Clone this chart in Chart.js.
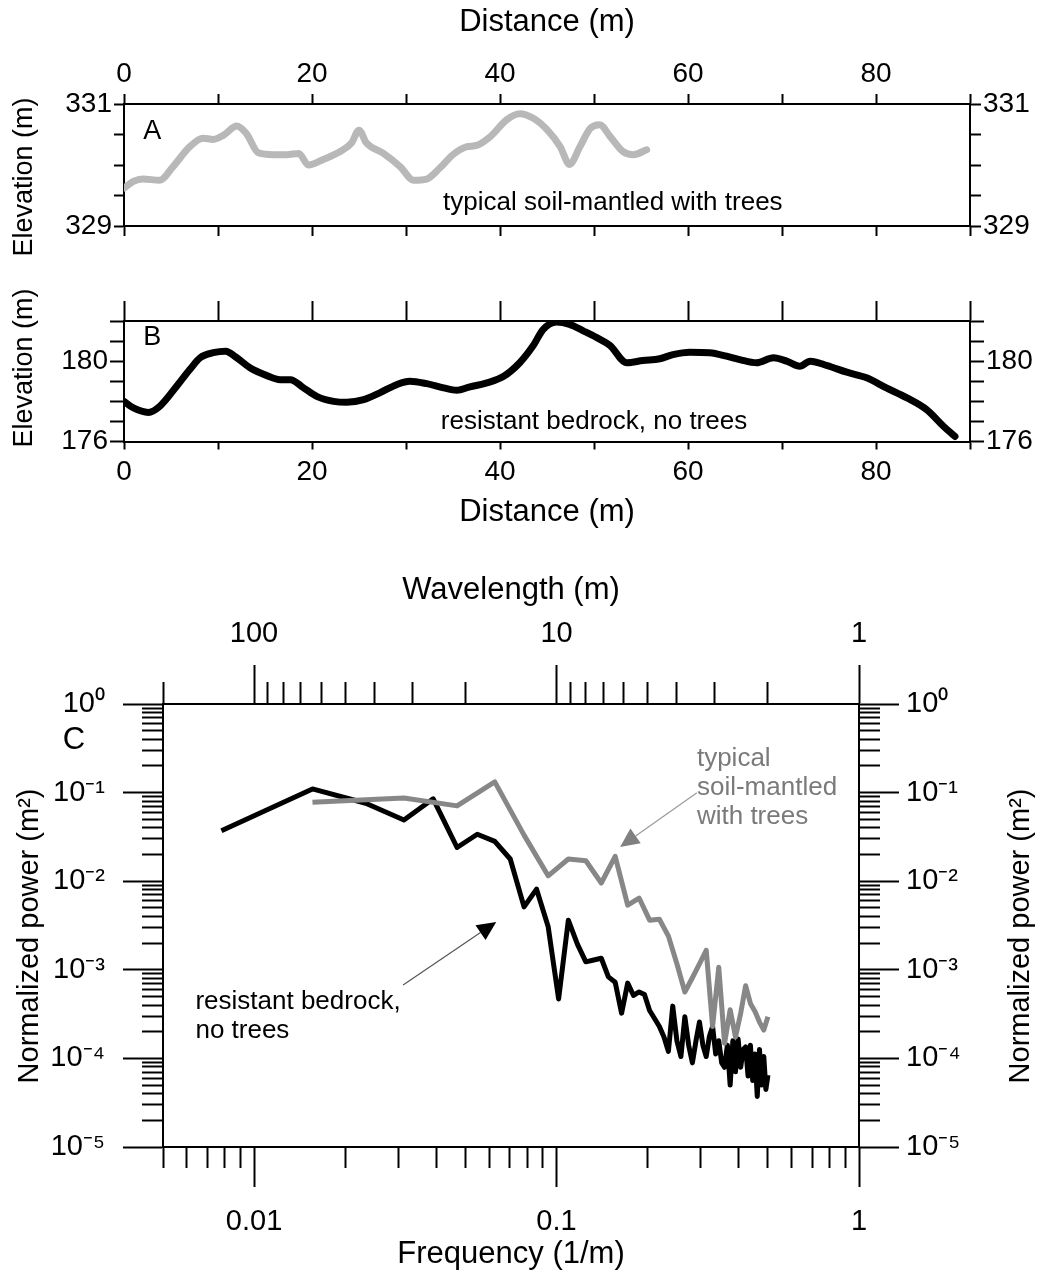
<!DOCTYPE html>
<html>
<head>
<meta charset="utf-8">
<script src="https://cdn.jsdelivr.net/npm/chart.js@4.4.1/dist/chart.umd.min.js"></script>
<style>
  html, body { margin: 0; padding: 0; background: #fff; }
  body { width: 1047px; height: 1277px; position: relative; overflow: hidden; }
  .panel { position: absolute; left: 0; width: 1047px; }
  .panel canvas { display: block; }
</style>
</head>
<body>
<div class="panel" style="top:0;height:270px"><canvas id="profileA" width="1047" height="270"></canvas></div>
<div class="panel" style="top:250px;height:290px"><canvas id="profileB" width="1047" height="290"></canvas></div>
<div class="panel" style="top:540px;height:737px"><canvas id="spectrum" width="1047" height="737"></canvas></div>
<script>
// --- profile A: typical soil-mantled with trees ---
const profileADist = [0, 1, 2, 3.8, 5.2, 7, 8.4, 9.5, 10.6, 12, 13, 14.3, 15.9, 17.3, 18.6, 19.6, 21.2, 23, 24.2, 25,
  25.8, 27.6, 29.4, 30.8, 32.2, 33.6, 35, 36.5, 37.5, 39, 40.7, 42.1, 43.5, 45, 46.4, 47.4, 48.5, 49.6, 50.6, 51.7,
  53.1, 54.2, 55.6];
const profileAElev = [329.62, 329.73, 329.77, 329.75, 329.97, 330.30, 330.44, 330.42, 330.49, 330.64, 330.52, 330.20,
  330.17, 330.17, 330.19, 330.00, 330.09, 330.22, 330.36, 330.57, 330.36, 330.19, 329.97, 329.75, 329.77, 329.95,
  330.17, 330.30, 330.32, 330.47, 330.74, 330.84, 330.77, 330.58, 330.30, 330.01, 330.30, 330.60, 330.66, 330.47,
  330.22, 330.17, 330.25];

// --- profile B: resistant bedrock, no trees ---
const profileBDist = [0, 1, 2.6, 3.8, 5.6, 7, 8.1, 9.5, 10.8, 12, 13.4, 15.2, 16.6, 17.7, 19.1, 20.5, 22.3, 23.7, 25.5,
  27.2, 29, 30.4, 32.2, 34, 35.4, 36.8, 38.6, 40.4, 42.1, 43.5, 44.6, 46, 47.4, 48.9, 50.3, 51.7, 53.5, 55.2, 57, 58.4,
  60.2, 62.3, 64.1, 65.5, 67.3, 69.1, 70.5, 71.9, 73, 74.8, 76.9, 79, 81.1, 83.3, 85.4, 87.2, 88.4];
const profileBElev = [178.0, 177.67, 177.45, 177.75, 178.75, 179.58, 180.17, 180.42, 180.5, 180.17, 179.67, 179.28,
  179.08, 179.08, 178.67, 178.25, 178.0, 177.95, 178.08, 178.42, 178.83, 179.0, 178.88, 178.67, 178.55, 178.72, 178.92,
  179.25, 179.92, 180.75, 181.58, 181.95, 181.83, 181.5, 181.17, 180.78, 179.92, 180.03, 180.12, 180.33, 180.45,
  180.42, 180.25, 180.08, 179.92, 180.17, 180.0, 179.75, 180.0, 179.78, 179.45, 179.17, 178.67, 178.17, 177.58,
  176.75, 176.25];

// --- spectra ---
const bedrockFreq = [0.0078, 0.0156, 0.0234, 0.0313, 0.0391, 0.0469, 0.0547, 0.0625, 0.0703, 0.0781, 0.0859, 0.0938,
  0.1016, 0.1094, 0.1172, 0.125, 0.1328, 0.1406, 0.1484, 0.1563, 0.1641, 0.1719, 0.1797, 0.1875, 0.1953, 0.2031,
  0.2109, 0.2188, 0.2266, 0.2344, 0.2422, 0.25, 0.2578, 0.2656, 0.2734, 0.2813, 0.2891, 0.2969, 0.3047, 0.3125,
  0.3203, 0.3281, 0.3359, 0.3438, 0.3516, 0.3594, 0.3672, 0.375, 0.3828, 0.3906, 0.3984, 0.4063, 0.4141, 0.4219,
  0.4297, 0.4375, 0.4453, 0.4531, 0.4609, 0.4688, 0.4766, 0.4844, 0.4922, 0.5];
const bedrockPower = [0.0372, 0.110, 0.0759, 0.049, 0.0851, 0.024, 0.0339, 0.0282, 0.0178, 0.00513, 0.00813, 0.00309,
  0.000468, 0.00363, 0.00195, 0.00123, 0.00129, 0.00135, 0.000832, 0.000724, 0.000324, 0.000708, 0.000513, 0.000562,
  0.000525, 0.000347, 0.000282, 0.000229, 0.000174, 0.000120, 0.000389, 0.000158, 0.000105, 0.000295, 0.000141,
  0.0000891, 0.000158, 0.000257, 0.000141, 0.000105, 0.000178, 0.000229, 0.000112, 0.000158, 0.0000891, 0.0000794,
  0.000141, 0.0000501, 0.000158, 0.0000708, 0.000166, 0.0000794, 0.000126, 0.000135, 0.0000631, 0.000141, 0.0000562,
  0.000112, 0.0000372, 0.000126, 0.0000501, 0.000105, 0.0000447, 0.0000646];
const soilFreq = [0.0156, 0.0313, 0.0469, 0.0625, 0.0781, 0.0938, 0.1094, 0.125, 0.1406, 0.1563, 0.1719, 0.1875,
  0.2031, 0.2188, 0.2344, 0.25, 0.2656, 0.2813, 0.2969, 0.3125, 0.3281, 0.3438, 0.3594, 0.375, 0.3906, 0.4063,
  0.4219, 0.4375, 0.4531, 0.4688, 0.4844, 0.5];
const soilPower = [0.0776, 0.0871, 0.0708, 0.132, 0.0331, 0.0115, 0.0178, 0.0170, 0.00955, 0.0191, 0.00537, 0.00646,
  0.00363, 0.00372, 0.0024, 0.00117, 0.000562, 0.000813, 0.00117, 0.00166, 0.000229, 0.00107, 0.000148, 0.000355,
  0.000174, 0.000324, 0.000661, 0.000417, 0.000339, 0.000257, 0.000209, 0.000295];

// --- ticks ---
const distanceTicks = [0, 10, 20, 30, 40, 50, 60, 70, 80, 90];
const distanceLabels = [0, 20, 40, 60, 80];
const elevTicksA = [329, 329.5, 330, 330.5, 331];
const elevLabelsA = [329, 331];
const elevTicksB = [176, 177, 178, 179, 180, 181, 182];
const elevLabelsB = [176, 180];
const freqTicks = [0.005, 0.006, 0.007, 0.008, 0.009, 0.01, 0.02, 0.03, 0.04, 0.05, 0.06, 0.07, 0.08, 0.09,
  0.1, 0.2, 0.3, 0.4, 0.5, 0.6, 0.7, 0.8, 0.9, 1];
const freqLabels = [0.01, 0.1, 1];
const wavelengthTicks = [200, 100, 90, 80, 70, 60, 50, 40, 30, 20, 10, 9, 8, 7, 6, 5, 4, 3, 2, 1];
const wavelengthLabels = [100, 10, 1];
const powerTicks = [1e-5, 2e-5, 3e-5, 4e-5, 5e-5, 6e-5, 7e-5, 8e-5, 9e-5,
  1e-4, 2e-4, 3e-4, 4e-4, 5e-4, 6e-4, 7e-4, 8e-4, 9e-4,
  1e-3, 2e-3, 3e-3, 4e-3, 5e-3, 6e-3, 7e-3, 8e-3, 9e-3,
  0.01, 0.02, 0.03, 0.04, 0.05, 0.06, 0.07, 0.08, 0.09,
  0.1, 0.2, 0.3, 0.4, 0.5, 0.6, 0.7, 0.8, 0.9, 1];
const powerDecades = [1e-5, 1e-4, 1e-3, 1e-2, 1e-1, 1];
const powerDecadeLabels = ['10⁻⁵', '10⁻⁴', '10⁻³', '10⁻²', '10⁻¹', '10⁰'];

const SANS = "'Liberation Sans', Arial, sans-serif";
const near = (a, b) => Math.abs(a - b) <= 1e-6 * Math.max(Math.abs(a), Math.abs(b), 1e-12);

// one axis, with fixed box size and optional shorter minor ticks
function axis(o) {
  const fromOuter = o.position === 'top' || o.position === 'left';
  const minor = v => (o.isMinor ? o.isMinor(v) : false);
  return {
    type: o.type || 'linear',
    position: o.position,
    min: o.min,
    max: o.max,
    afterBuildTicks: s => { s.ticks = o.ticks.map(v => ({ value: v })); },
    afterFit: s => { if (s.isHorizontal()) s.height = o.size; else s.width = o.size; },
    border: { display: true, color: '#000', width: 2 },
    grid: {
      drawOnChartArea: false,
      drawTicks: true,
      tickLength: o.tickLength,
      tickWidth: 2,
      tickColor: '#000',
      tickBorderDash: c => (c.tick && minor(c.tick.value)) ? [o.minorLength, 1000] : [],
      tickBorderDashOffset: c => (c.tick && minor(c.tick.value) && fromOuter) ? -(o.tickLength - 1 - o.minorLength) : 0
    },
    ticks: {
      autoSkip: false, maxRotation: 0, minRotation: 0,
      padding: o.padding || 0,
      color: '#000',
      font: o.font || { family: SANS, size: 28, lineHeight: 1 },
      callback: v => o.label(v)
    },
    title: o.title || { display: false }
  };
}

// text and arrows drawn over a chart; spec kept outside the options resolver
function notes(spec) {
  return {
    id: 'notes',
    afterDraw(chart) {
      const ctx = chart.ctx;
      const sx = chart.scales.x, sy = chart.scales.y;
      const toPx = p => [sx.getPixelForValue(p[0]), sy.getPixelForValue(p[1])];
      (spec.arrows || []).forEach(a => {
        const [x1, y1] = toPx(a.from), [x2, y2] = toPx(a.to);
        const len = Math.hypot(x2 - x1, y2 - y1), ux = (x2 - x1) / len, uy = (y2 - y1) / len;
        const bx = x2 - ux * a.head, by = y2 - uy * a.head;
        ctx.save();
        ctx.strokeStyle = a.lineColor; ctx.lineWidth = 1.2;
        ctx.beginPath(); ctx.moveTo(x1, y1); ctx.lineTo(bx, by); ctx.stroke();
        ctx.fillStyle = a.color;
        ctx.beginPath();
        ctx.moveTo(x2, y2);
        ctx.lineTo(bx - uy * a.half, by + ux * a.half);
        ctx.lineTo(bx + uy * a.half, by - ux * a.half);
        ctx.closePath(); ctx.fill();
        ctx.restore();
      });
      (spec.texts || []).forEach(t => {
        const [x, y] = t.at ? toPx(t.at) : t.px;
        ctx.save();
        ctx.translate(x, y);
        if (t.rotate) ctx.rotate(t.rotate);
        ctx.font = t.font;
        ctx.fillStyle = t.color || '#000';
        ctx.textAlign = t.align || 'center';
        ctx.textBaseline = 'middle';
        t.lines.forEach((line, i) => ctx.fillText(line, 0, i * (t.lineHeight || 0)));
        ctx.restore();
      });
    }
  };
}

const baseOptions = {
  responsive: false,
  maintainAspectRatio: false,
  animation: false,
  layout: { padding: 0, autoPadding: false },
  plugins: { legend: { display: false }, tooltip: { enabled: false } },
  elements: { point: { radius: 0 } }
};

const distLabel = v => (distanceLabels.includes(v) ? String(v) : '');
const titleFont = { family: SANS, size: 31, lineHeight: 1 };

// Panel A
new Chart(document.getElementById('profileA'), {
  type: 'line',
  data: {
    datasets: [{
      data: profileADist.map((d, i) => ({ x: d, y: profileAElev[i] })),
      borderColor: '#b8b8b8', borderWidth: 7, borderJoinStyle: 'round', borderCapStyle: 'round',
      cubicInterpolationMode: 'monotone', tension: 0.3
    }]
  },
  options: {
    ...baseOptions,
    scales: {
      x: axis({ position: 'bottom', min: 0, max: 90, ticks: distanceTicks, label: () => '', size: 44, tickLength: 10 }),
      x2: axis({ position: 'top', min: 0, max: 90, ticks: distanceTicks, label: distLabel, size: 104, tickLength: 10,
        padding: 6, title: { display: true, text: 'Distance (m)', font: titleFont, color: '#000', padding: { top: 7, bottom: 0 } } }),
      y: axis({ position: 'left', min: 329, max: 331, ticks: elevTicksA, label: v => (elevLabelsA.includes(v) ? String(v) : ''),
        size: 124, tickLength: 10, padding: 2 }),
      y2: axis({ position: 'right', min: 329, max: 331, ticks: elevTicksA, label: v => (elevLabelsA.includes(v) ? String(v) : ''),
        size: 77, tickLength: 11, padding: 2 })
    }
  },
  plugins: [notes({
    texts: [
      { lines: ['A'], at: [3, 330.55], font: `27px ${SANS}` },
      { lines: ['typical soil-mantled with trees'], at: [52, 329.38], font: `26px ${SANS}` },
      { lines: ['Elevation (m)'], px: [25, 177], rotate: -Math.PI / 2, font: `27px ${SANS}` }
    ]
  })]
});

// Panel B
new Chart(document.getElementById('profileB'), {
  type: 'line',
  data: {
    datasets: [{
      data: profileBDist.map((d, i) => ({ x: d, y: profileBElev[i] })),
      borderColor: '#000', borderWidth: 7, borderJoinStyle: 'round', borderCapStyle: 'round',
      cubicInterpolationMode: 'monotone', tension: 0.3
    }]
  },
  options: {
    ...baseOptions,
    scales: {
      x: axis({ position: 'bottom', min: 0, max: 90, ticks: distanceTicks, label: distLabel, size: 98.5, tickLength: 8,
        padding: 9, title: { display: true, text: 'Distance (m)', font: titleFont, color: '#000', padding: { top: 0, bottom: 12 } } }),
      x2: axis({ position: 'top', min: 0, max: 90, ticks: distanceTicks, label: () => '', size: 71, tickLength: 20 }),
      y: axis({ position: 'left', min: 176, max: 182, ticks: elevTicksB, label: v => (elevLabelsB.includes(v) ? String(v) : ''),
        size: 124, tickLength: 14, padding: 2 }),
      y2: axis({ position: 'right', min: 176, max: 182, ticks: elevTicksB, label: v => (elevLabelsB.includes(v) ? String(v) : ''),
        size: 77, tickLength: 14, padding: 2 })
    }
  },
  plugins: [notes({
    texts: [
      { lines: ['B'], at: [3, 181.2], font: `27px ${SANS}` },
      { lines: ['resistant bedrock, no trees'], at: [50, 177.0], font: `26px ${SANS}` },
      { lines: ['Elevation (m)'], px: [25, 118], rotate: -Math.PI / 2, font: `27px ${SANS}` }
    ]
  })]
});

// Panel C
const isDecade = v => powerDecades.some(d => near(d, v));
const powerLabel = v => {
  const i = powerDecades.findIndex(d => near(d, v));
  return i >= 0 ? powerDecadeLabels[i] : '';
};
const tickFontC = { family: SANS, size: 29, lineHeight: 1 };
const powerFont = { family: SANS, size: 29, lineHeight: 1 };

new Chart(document.getElementById('spectrum'), {
  type: 'line',
  data: {
    datasets: [
      {
        label: 'typical soil-mantled with trees',
        data: soilFreq.map((f, i) => ({ x: f, y: soilPower[i] })),
        borderColor: '#878787', borderWidth: 5, borderJoinStyle: 'round', tension: 0
      },
      {
        label: 'resistant bedrock, no trees',
        data: bedrockFreq.map((f, i) => ({ x: f, y: bedrockPower[i] })),
        borderColor: '#000', borderWidth: 5, borderJoinStyle: 'round', tension: 0
      }
    ]
  },
  options: {
    ...baseOptions,
    scales: {
      x: axis({ type: 'logarithmic', position: 'bottom', min: 0.005, max: 1, ticks: freqTicks,
        label: v => { const l = freqLabels.find(f => near(f, v)); return l !== undefined ? String(l) : ''; },
        isMinor: v => !freqLabels.some(f => near(f, v)),
        size: 130, tickLength: 40, minorLength: 20, padding: 20, font: tickFontC,
        title: { display: true, text: 'Frequency (1/m)', font: { family: SANS, size: 31, lineHeight: 1 }, color: '#000', padding: { top: 0, bottom: 7 } } }),
      x2: axis({ type: 'logarithmic', position: 'top', min: 0.005, max: 1, ticks: wavelengthTicks.map(w => 1 / w),
        label: v => { const w = Math.round(1 / v); return wavelengthLabels.includes(w) ? String(w) : ''; },
        isMinor: v => !wavelengthLabels.includes(Math.round(1 / v)),
        size: 164, tickLength: 39, minorLength: 21, padding: 17, font: tickFontC,
        title: { display: true, text: 'Wavelength (m)', font: { family: SANS, size: 31, lineHeight: 1 }, color: '#000', padding: { top: 35, bottom: 0 } } }),
      y: axis({ type: 'logarithmic', position: 'left', min: 1e-5, max: 1, ticks: powerTicks, label: powerLabel,
        isMinor: v => !isDecade(v), size: 163, tickLength: 40, minorLength: 20, padding: 18, font: powerFont }),
      y2: axis({ type: 'logarithmic', position: 'right', min: 1e-5, max: 1, ticks: powerTicks, label: powerLabel,
        isMinor: v => !isDecade(v), size: 188, tickLength: 40, minorLength: 20, padding: 7, font: powerFont })
    }
  },
  plugins: [notes({
    arrows: [
      { from: [0.2912, 0.0995], to: [0.1622, 0.0244], color: '#808080', lineColor: '#9a9a9a', head: 19, half: 9 },
      { from: [0.0311, 0.000673], to: [0.0632, 0.00347], color: '#000', lineColor: '#555', head: 19, half: 9 }
    ],
    texts: [
      { lines: ['C'], px: [74, 200], font: `31px ${SANS}` },
      { lines: ['typical', 'soil-mantled', 'with trees'], at: [0.2912, 0.24], align: 'left', lineHeight: 29,
        font: `26px ${SANS}`, color: '#7a7a7a' },
      { lines: ['resistant bedrock,', 'no trees'], at: [0.0064, 0.000433], align: 'left', lineHeight: 29,
        font: `26px ${SANS}` },
      { lines: ['Normalized power (m²)'], px: [30, 396], rotate: -Math.PI / 2, font: `29px ${SANS}` },
      { lines: ['Normalized power (m²)'], px: [1021, 396], rotate: -Math.PI / 2, font: `29px ${SANS}` }
    ]
  })]
});
</script>
</body>
</html>
